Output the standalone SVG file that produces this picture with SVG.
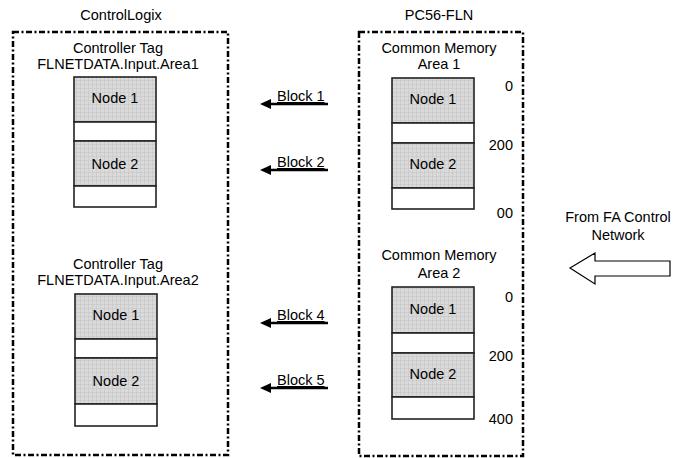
<svg xmlns="http://www.w3.org/2000/svg" width="674" height="458" viewBox="0 0 674 458">
<defs>
<pattern id="grid" width="4" height="4" patternUnits="userSpaceOnUse">
<rect width="4" height="4" fill="#dadada"/>
<path d="M0 0.5H4M0.5 0V4" stroke="#c6c6c6" stroke-width="0.6" fill="none"/>
</pattern>
<marker id="ah" markerWidth="14" markerHeight="12" refX="2" refY="5" orient="auto" markerUnits="userSpaceOnUse" overflow="visible">
<path d="M0 0 L11 5 L0 10 Z" fill="#000"/>
</marker>
<style>
text{font-family:"Liberation Sans",Arial,sans-serif;font-size:14.5px;fill:#000}
.c{text-anchor:middle}
.e{text-anchor:end}
.u{text-decoration:underline}
.frame{fill:none;stroke:#000;stroke-width:2.5;stroke-dasharray:6 2.5 2 2.5}
.fill{fill:url(#grid);stroke:#222;stroke-width:1.6}
.blank{fill:#fff;stroke:#222;stroke-width:1.6}
.conn{stroke:#000;stroke-width:2.6;fill:none}
</style>
</defs>

<g id="controllogix">
<text class="c" x="121" y="20">ControlLogix</text>
<rect class="frame" x="13" y="32" width="215" height="423"/>
</g>

<g id="pc56">
<text class="c" x="439" y="20">PC56-FLN</text>
<rect class="frame" x="359" y="32" width="164" height="424"/>
</g>

<g id="tag1">
<text class="c" x="118" y="53">Controller Tag</text>
<text class="c" x="118" y="69">FLNETDATA.Input.Area1</text>
<rect class="fill" x="74" y="77" width="82" height="45"/>
<rect class="blank" x="74" y="122" width="82" height="19"/>
<rect class="fill" x="74" y="141" width="82" height="45"/>
<rect class="blank" x="74" y="186" width="82" height="21"/>
<text class="c" x="115" y="103">Node 1</text>
<text class="c" x="115" y="169">Node 2</text>
</g>

<g id="tag2">
<text class="c" x="118" y="269">Controller Tag</text>
<text class="c" x="118" y="285">FLNETDATA.Input.Area2</text>
<rect class="fill" x="75" y="294" width="82" height="45"/>
<rect class="blank" x="75" y="339" width="82" height="19"/>
<rect class="fill" x="75" y="358" width="82" height="46"/>
<rect class="blank" x="75" y="404" width="82" height="22"/>
<text class="c" x="116" y="320">Node 1</text>
<text class="c" x="116" y="386">Node 2</text>
</g>

<g id="area1">
<text class="c" x="439" y="53">Common Memory</text>
<text class="c" x="439" y="69">Area 1</text>
<rect class="fill" x="392" y="78" width="82" height="45"/>
<rect class="blank" x="392" y="123" width="82" height="20"/>
<rect class="fill" x="392" y="143" width="82" height="45"/>
<rect class="blank" x="392" y="188" width="82" height="21"/>
<text class="c" x="433" y="104">Node 1</text>
<text class="c" x="433" y="169">Node 2</text>
<text class="e" x="513" y="91">0</text>
<text class="e" x="513" y="150">200</text>
<text class="e" x="513" y="218">00</text>
</g>

<g id="area2">
<text class="c" x="439" y="260">Common Memory</text>
<text class="c" x="439" y="278">Area 2</text>
<rect class="fill" x="392" y="287" width="82" height="46"/>
<rect class="blank" x="392" y="333" width="82" height="20"/>
<rect class="fill" x="392" y="353" width="82" height="44"/>
<rect class="blank" x="392" y="397" width="82" height="22"/>
<text class="c" x="433" y="314">Node 1</text>
<text class="c" x="433" y="379">Node 2</text>
<text class="e" x="513" y="302">0</text>
<text class="e" x="513" y="361">200</text>
<text class="e" x="513" y="424">400</text>
</g>

<g id="network">
<text class="c" x="618" y="222">From FA Control</text>
<text class="c" x="618" y="240">Network</text>
<path d="M570 268 L595 253 L595 261 L670 261 L670 276 L595 276 L595 284 Z" fill="#fff" stroke="#000" stroke-width="1.2"/>
</g>

<g id="connectors">
<line class="conn" x1="328" y1="104" x2="269" y2="104" marker-end="url(#ah)"/>
<text class="u" x="277" y="101">Block 1</text>
<line class="conn" x1="328" y1="170" x2="269" y2="170" marker-end="url(#ah)"/>
<text class="u" x="277" y="167">Block 2</text>
<line class="conn" x1="328" y1="323" x2="269" y2="323" marker-end="url(#ah)"/>
<text class="u" x="277" y="320">Block 4</text>
<line class="conn" x1="328" y1="388" x2="269" y2="388" marker-end="url(#ah)"/>
<text class="u" x="277" y="385">Block 5</text>
</g>
</svg>
